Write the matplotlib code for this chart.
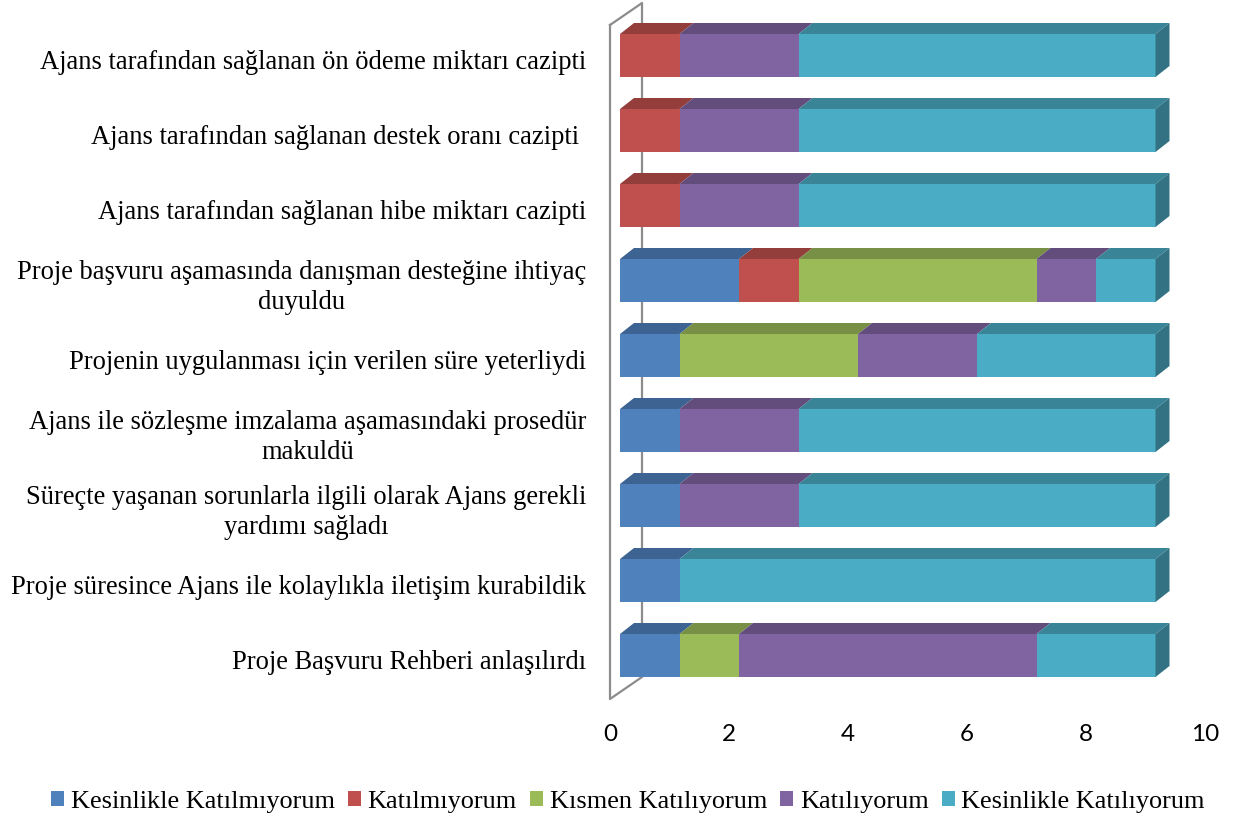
import matplotlib
matplotlib.use("Agg")
import matplotlib.pyplot as plt
from matplotlib.patches import Polygon, Rectangle
from matplotlib.lines import Line2D
from matplotlib.transforms import ScaledTranslation
import matplotlib.colors as mcolors
import numpy as np

categories = [
    "Proje Başvuru Rehberi anlaşılırdı",
    "Proje süresince Ajans ile kolaylıkla iletişim kurabildik",
    "Süreçte yaşanan sorunlarla ilgili olarak Ajans gerekli\nyardımı sağladı",
    "Ajans ile sözleşme imzalama aşamasındaki prosedür\nmakuldü",
    "Projenin uygulanması için verilen süre yeterliydi",
    "Proje başvuru aşamasında danışman desteğine ihtiyaç\nduyuldu",
    "Ajans tarafından sağlanan hibe miktarı cazipti",
    "Ajans tarafından sağlanan destek oranı cazipti ",
    "Ajans tarafından sağlanan ön ödeme miktarı cazipti",
]
series_names = ["Kesinlikle Katılmıyorum", "Katılmıyorum", "Kısmen Katılıyorum",
                "Katılıyorum", "Kesinlikle Katılıyorum"]
kesinlikle_katilmiyorum = [1, 1, 1, 1, 1, 2, 0, 0, 0]
katilmiyorum            = [0, 0, 0, 0, 0, 1, 1, 1, 1]
kismen_katiliyorum      = [1, 0, 0, 0, 3, 4, 0, 0, 0]
katiliyorum             = [5, 0, 2, 2, 2, 1, 2, 2, 2]
kesinlikle_katiliyorum  = [2, 8, 6, 6, 3, 1, 6, 6, 6]
series = [kesinlikle_katilmiyorum, katilmiyorum, kismen_katiliyorum,
          katiliyorum, kesinlikle_katiliyorum]
colors = ["#4F81BD", "#C0504D", "#9BBB59", "#8064A2", "#4BACC6"]
xticks = [0, 2, 4, 6, 8, 10]

W, H = 1238, 821
fig = plt.figure(figsize=(W / 100, H / 100), dpi=100)
ax_left, ax_right, ax_top, ax_bot = 610, 1205, 25, 699
ax = fig.add_axes([ax_left / W, (H - ax_bot) / H, (ax_right - ax_left) / W, (ax_bot - ax_top) / H])

px_per_x = (ax_right - ax_left) / 10.0
row_px = 75.0
first_center = 655.5
ax.set_xlim(0, 10)
ax.set_ylim(-(ax_bot - first_center) / row_px, (first_center - ax_top) / row_px)

def shade(c, f):
    r, g, b = mcolors.to_rgb(c)
    return (r * f, g * f, b * f)

bar_h = 43 / row_px
ddx = 14 / px_per_x
ddy = 11 / row_px
shift = ScaledTranslation(10 / 100, 0, fig.dpi_scale_trans)
tr = ax.transData + shift

y = np.arange(len(categories))
left = np.zeros(len(categories))
for vals, col in zip(series, colors):
    vals = np.array(vals, dtype=float)
    for i in range(len(categories)):
        if vals[i] <= 0:
            continue
        l, r = left[i], left[i] + vals[i]
        top = y[i] + bar_h / 2
        ax.add_patch(Rectangle((l, y[i] - bar_h / 2), vals[i], bar_h, facecolor=col,
                               edgecolor="none", transform=tr, clip_on=False, zorder=3))
        ax.add_patch(Polygon([(l, top), (r, top), (r + ddx, top + ddy), (l + ddx, top + ddy)],
                             closed=True, facecolor=shade(col, 0.77), edgecolor="none",
                             transform=tr, clip_on=False, zorder=3))
    left += vals

# right side faces of total bars (last non-zero segment colour)
for i in range(len(categories)):
    last = [c for v, c in zip(series, colors) if v[i] > 0][-1]
    r = left[i]
    b = y[i] - bar_h / 2
    t = y[i] + bar_h / 2
    ax.add_patch(Polygon([(r, b), (r, t), (r + ddx, t + ddy), (r + ddx, b + ddy)],
                         closed=True, facecolor=shade(last, 0.66), edgecolor="none",
                         transform=tr, clip_on=False, zorder=3))

# back wall outline
wx = 32 / (ax_right - ax_left)
wy = 22 / (ax_bot - ax_top)
wall = Line2D([0, 0, wx, wx, 0], [1, 0, wy, 1 + wy, 1], transform=ax.transAxes,
              color="#8C8C8C", lw=1.6, clip_on=False, zorder=1)
ax.add_line(wall)

for s in ax.spines.values():
    s.set_visible(False)
ax.set_xticks(xticks)
ax.set_xticklabels([str(t) for t in xticks], fontfamily="Lato", fontsize=17.5)
ax.tick_params(axis="x", length=0, pad=18)
ax.set_yticks([])
lab_tr = ax.get_yaxis_transform() + ScaledTranslation(-24 / 100, -7 / 100, fig.dpi_scale_trans)
for yi, cat in zip(y, categories):
    ax.text(0, yi, cat, transform=lab_tr, ha="right", va="center", multialignment="center",
            fontfamily="Liberation Serif", fontsize=19.1, linespacing=1.3)
ax.patch.set_visible(False)

handles = [Rectangle((0, 0), 1, 1, facecolor=c, edgecolor="none") for c in colors]
fig.legend(handles, series_names, loc="center", bbox_to_anchor=(628 / W, 1 - 802 / H),
           ncol=5, frameon=False, prop={"family": "Liberation Serif", "size": 18.9},
           handlelength=0.5, handleheight=0.5, handletextpad=0.25, columnspacing=0.5)

fig.savefig("out.png", dpi=100)
